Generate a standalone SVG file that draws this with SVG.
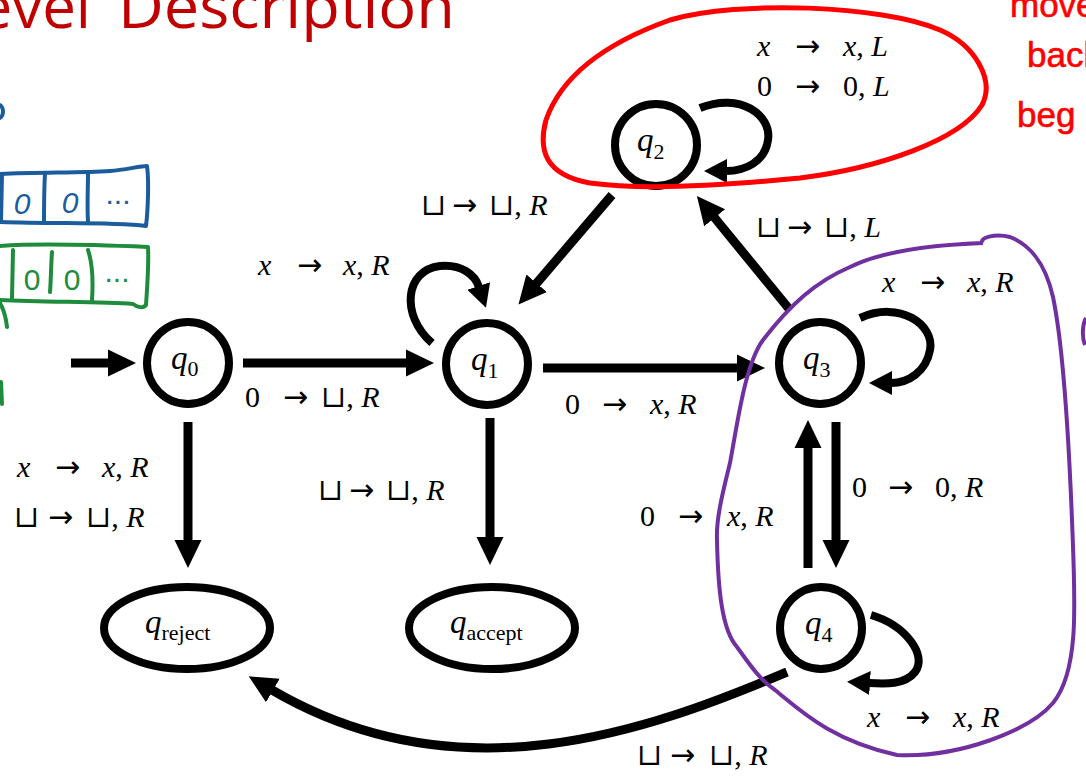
<svg xmlns="http://www.w3.org/2000/svg" width="1086" height="779" viewBox="0 0 1086 779">
<style>
.nd{fill:#fff;stroke:#000;stroke-width:8}
.edge{fill:none;stroke:#000;stroke-width:9;marker-end:url(#ah)}
.loop{fill:none;stroke:#000;stroke-width:8;marker-end:url(#lh)}
.t{font-family:"Liberation Serif","DejaVu Serif","DejaVu Sans",serif;font-size:30px;fill:#000}
.a{font-family:"DejaVu Sans",sans-serif;font-size:30px}
.q{font-family:"Liberation Serif","DejaVu Serif",serif;font-size:33px;fill:#000}
.s{font-size:22px;font-style:normal}
.i{font-style:italic}
.hw{fill:none;stroke-width:4;stroke-linecap:round;stroke-linejoin:round}
.blue{stroke:#1B5C9C}
.green{stroke:#1E8C3C}
.ht{font-family:"Liberation Sans",sans-serif;font-size:30px;text-anchor:middle}
.red{font-family:"Liberation Sans",sans-serif;font-size:35px;fill:#FF0000;stroke:#FF0000;stroke-width:0.6}
</style>
<defs>
<marker id="ah" markerUnits="userSpaceOnUse" viewBox="0 -15 30 30" markerWidth="30" markerHeight="30" refX="1" refY="0" orient="auto"><path d="M0,-13.5 L28,0 L0,13.5 z" fill="#000"/></marker>
<marker id="lh" markerUnits="userSpaceOnUse" viewBox="0 -15 30 30" markerWidth="30" markerHeight="30" refX="1" refY="0" orient="auto"><path d="M0,-12 L23,0 L0,12 z" fill="#000"/></marker>
</defs>
<rect width="1086" height="779" fill="#fff"/>

<!-- title -->
<text font-family="'Open Sans','Liberation Sans',sans-serif" font-size="60" fill="#C00000" y="28"><tspan x="91" text-anchor="end">evel</tspan><tspan x="118" textLength="337" lengthAdjust="spacingAndGlyphs">Description</tspan></text>

<!-- connectors -->
<g id="connectors">
<path class="edge" d="M71,363 L109,363"/>
<path class="edge" d="M243,363 L407,363"/>
<path class="edge" d="M543,368 L738,368"/>
<path class="edge" d="M188,422 L188,541"/>
<path class="edge" d="M490,418 L490,538"/>
<path class="edge" d="M612,195 L536,284"/>
<path class="edge" d="M790,310 L714,217"/>
<path class="edge" d="M836,422 L836,541"/>
<path class="edge" d="M808,568 L808,447"/>
<path class="edge" d="M787,672 C650,730 460,800 272,690"/>
<path class="loop" d="M432,343 C400,315 405,270 440,266 C462,264 475,275 479,287"/>
<path class="loop" d="M700,108 C740,92 772,115 768,140 C765,162 745,171 726,171"/>
<path class="loop" d="M860,318 C900,300 935,325 930,350 C926,372 908,383 891,383"/>
<path class="loop" d="M871,615 C905,625 928,655 915,672 C905,685 885,684 869,683"/>
</g>

<!-- nodes -->
<g id="q0"><circle class="nd" cx="188" cy="363" r="41"/><text class="q" x="171" y="369"><tspan class="i">q</tspan><tspan class="s" dy="7">0</tspan></text></g>
<g id="q1"><circle class="nd" cx="487" cy="364" r="41"/><text class="q" x="471" y="370"><tspan class="i">q</tspan><tspan class="s" dy="8">1</tspan></text></g>
<g id="q2"><circle class="nd" cx="656" cy="145" r="41"/><text class="q" x="637" y="151"><tspan class="i">q</tspan><tspan class="s" dy="8">2</tspan></text></g>
<g id="q3"><circle class="nd" cx="820" cy="363" r="41"/><text class="q" x="803" y="369"><tspan class="i">q</tspan><tspan class="s" dy="8">3</tspan></text></g>
<g id="q4"><circle class="nd" cx="821" cy="628" r="41"/><text class="q" x="805" y="634"><tspan class="i">q</tspan><tspan class="s" dy="8">4</tspan></text></g>
<g id="qreject"><ellipse class="nd" cx="187" cy="628" rx="83" ry="41"/><text class="q" x="145" y="633"><tspan class="i">q</tspan><tspan class="s" font-size="23" dy="7">reject</tspan></text></g>
<g id="qaccept"><ellipse class="nd" cx="492" cy="628" rx="83" ry="41"/><text class="q" x="450" y="633"><tspan class="i">q</tspan><tspan class="s" font-size="23" dy="7">accept</tspan></text></g>

<!-- edge labels -->
<g id="labels">
<text class="t" y="56"><tspan x="757" class="i">x</tspan><tspan x="795" class="a">→</tspan><tspan x="843" class="i">x</tspan>, <tspan class="i">L</tspan></text>
<text class="t" y="96"><tspan x="757">0</tspan><tspan x="795" class="a">→</tspan><tspan x="843">0</tspan>, <tspan class="i">L</tspan></text>
<text class="t" y="215"><tspan x="421">⊔</tspan><tspan x="452" class="a">→</tspan><tspan x="489">⊔</tspan>, <tspan class="i">R</tspan></text>
<text class="t" y="237"><tspan x="756">⊔</tspan><tspan x="787" class="a">→</tspan><tspan x="824">⊔</tspan>, <tspan class="i">L</tspan></text>
<text class="t" y="275"><tspan x="258" class="i">x</tspan><tspan x="297" class="a">→</tspan><tspan x="343" class="i">x</tspan>, <tspan class="i">R</tspan></text>
<text class="t" y="292"><tspan x="882" class="i">x</tspan><tspan x="920" class="a">→</tspan><tspan x="967" class="i">x</tspan>, <tspan class="i">R</tspan></text>
<text class="t" y="407"><tspan x="245">0</tspan><tspan x="283" class="a">→</tspan><tspan x="321">⊔</tspan>, <tspan class="i">R</tspan></text>
<text class="t" y="414"><tspan x="565">0</tspan><tspan x="602" class="a">→</tspan><tspan x="650" class="i">x</tspan>, <tspan class="i">R</tspan></text>
<text class="t" y="477"><tspan x="17" class="i">x</tspan><tspan x="55" class="a">→</tspan><tspan x="102" class="i">x</tspan>, <tspan class="i">R</tspan></text>
<text class="t" y="527"><tspan x="14">⊔</tspan><tspan x="48" class="a">→</tspan><tspan x="86">⊔</tspan>, <tspan class="i">R</tspan></text>
<text class="t" y="500"><tspan x="318">⊔</tspan><tspan x="349" class="a">→</tspan><tspan x="386">⊔</tspan>, <tspan class="i">R</tspan></text>
<text class="t" y="497"><tspan x="852">0</tspan><tspan x="888" class="a">→</tspan><tspan x="935">0</tspan>, <tspan class="i">R</tspan></text>
<text class="t" y="526"><tspan x="640">0</tspan><tspan x="678" class="a">→</tspan><tspan x="727" class="i">x</tspan>, <tspan class="i">R</tspan></text>
<text class="t" y="727"><tspan x="867" class="i">x</tspan><tspan x="905" class="a">→</tspan><tspan x="953" class="i">x</tspan>, <tspan class="i">R</tspan></text>
<text class="t" y="765"><tspan x="637">⊔</tspan><tspan x="670" class="a">→</tspan><tspan x="709">⊔</tspan>, <tspan class="i">R</tspan></text>
</g>

<!-- annotations -->
<g id="annotations">
<path d="M670,20 C600,45 560,80 546,120 C538,150 545,175 590,183 C640,190 720,186 800,178 C880,168 960,140 982,105 C995,80 975,45 940,30 C880,5 740,0 670,20 Z" fill="none" stroke="#FF0000" stroke-width="5"/>
<path d="M983,243 C930,245 880,252 850,267 C815,282 790,305 763,340 C745,365 738,420 730,463 C722,495 716,520 717,540 C718,590 722,630 737,647 C750,665 760,680 775,690 C800,710 830,740 897,755 C960,758 1030,730 1053,703 C1080,670 1075,600 1072,520 C1068,420 1062,340 1053,297 C1045,262 1030,245 1010,237 C995,233 978,238 983,243" fill="none" stroke="#7030A0" stroke-width="4"/>
<path d="M1086,318 C1082,325 1082,338 1085,345" fill="none" stroke="#7030A0" stroke-width="4"/>
<text class="red" x="1010" y="17">move</text>
<text class="red" x="1027" y="67">back</text>
<text class="red" x="1017" y="127">beg</text>

<path class="hw blue" d="M0,105 C4,108 4,115 0,118"/>
<path class="hw blue" d="M0,174 C40,172 80,173 110,171 C125,170 140,166 147,166 C149,180 148,210 146,226 C110,222 60,224 0,222"/>
<path class="hw blue" d="M2,174 L1,222 M45,173 C44,190 44,205 44,222 M88,172 C88,190 87,205 88,222"/>
<text class="ht" x="22" y="214" fill="#1B5C9C" font-style="italic">0</text>
<text class="ht" x="70" y="213" fill="#1B5C9C" font-style="italic">0</text>
<text class="ht" x="118" y="204" fill="#1B5C9C" font-size="26">...</text>

<path class="hw green" d="M0,246 C40,243 100,245 148,247 C149,265 147,290 146,305 C143,309 137,307 133,304 C100,302 50,302 0,300"/>
<path class="hw green" d="M13,250 L12,298 M52,252 C51,265 51,280 50,292 M88,250 C93,265 93,285 92,300"/>
<text class="ht" x="32" y="290" fill="#1E8C3C">0</text>
<text class="ht" x="72" y="290" fill="#1E8C3C">0</text>
<text class="ht" x="117" y="282" fill="#1E8C3C" font-size="26">...</text>
<path class="hw green" d="M0,303 C4,310 6,318 7,327 M1,382 L2,404"/>
</g>
</svg>
